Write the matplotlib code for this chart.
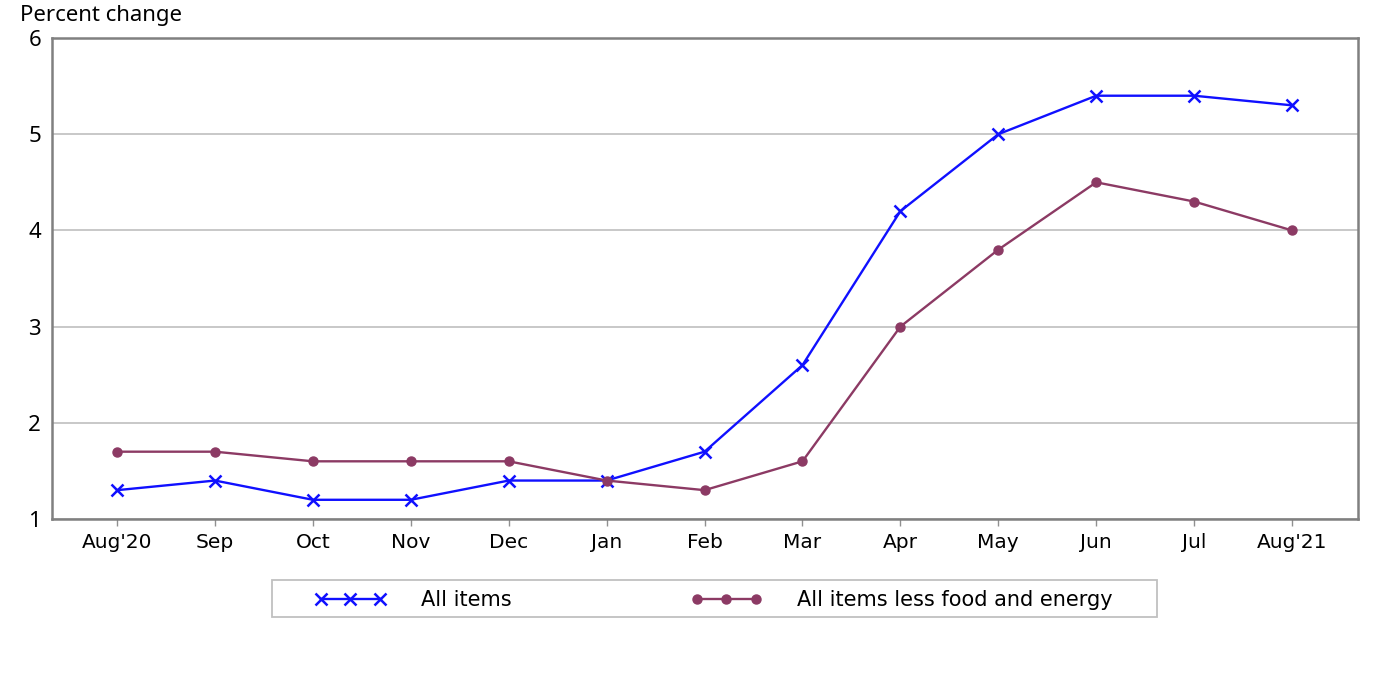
import matplotlib
matplotlib.use("Agg")
import matplotlib.pyplot as plt
from matplotlib.patches import Rectangle

months = ["Aug'20", "Sep", "Oct", "Nov", "Dec", "Jan", "Feb", "Mar", "Apr", "May", "Jun", "Jul", "Aug'21"]
all_items = [1.3, 1.4, 1.2, 1.2, 1.4, 1.4, 1.7, 2.6, 4.2, 5.0, 5.4, 5.4, 5.3]
core = [1.7, 1.7, 1.6, 1.6, 1.6, 1.4, 1.3, 1.6, 3.0, 3.8, 4.5, 4.3, 4.0]
yticks = [1, 2, 3, 4, 5, 6]

W, H = 1392, 676
fig = plt.figure(figsize=(W / 100, H / 100), dpi=100)
ax = fig.add_axes([0.0374, 0.2322, 0.9382, 0.7116])

x = list(range(len(months)))
l1, = ax.plot(x, all_items, color="#1010ff", lw=1.7, marker="x", ms=9, mew=1.8, label="All items", zorder=3)
l2, = ax.plot(x, core, color="#8c3a64", lw=1.7, marker="o", ms=6.5, label="All items less food and energy", zorder=3)

ax.set_xlim(-0.664, 12.674)
ax.set_ylim(1, 6)
ax.set_yticks(yticks)
ax.set_yticklabels([str(v) for v in yticks], fontsize=16, family="Noto Sans")
ax.set_xticks(x)
ax.set_xticklabels(months, fontsize=14.5, family="DejaVu Sans")
ax.tick_params(axis="y", length=0, pad=8)
ax.tick_params(axis="x", length=5, width=1, color="#909090", pad=5)
ax.grid(axis="y", color="#c4c4c4", lw=1.3)
ax.set_axisbelow(True)
for s in ax.spines.values():
    s.set_color("#808080")
    s.set_linewidth(1.8)

fig.text(20 / W, 1 - 21 / H, "Percent change", fontsize=16, family="Noto Sans", ha="left", va="baseline")

# legend frame
fig.patches.append(Rectangle((272 / W, 1 - 617 / H), 885 / W, 37 / H, transform=fig.transFigure,
                             fill=False, edgecolor="#c0c0c0", lw=1.3))
leg = fig.legend(handles=[l1, l2], loc="center left", bbox_to_anchor=(315 / W, 1 - 600 / H), ncol=2,
                 numpoints=3, handlelength=3.4, handletextpad=1.7, columnspacing=8.6,
                 frameon=False, borderpad=0, borderaxespad=0,
                 prop={"family": "DejaVu Sans", "size": 15})

fig.savefig("out.png", dpi=100)
